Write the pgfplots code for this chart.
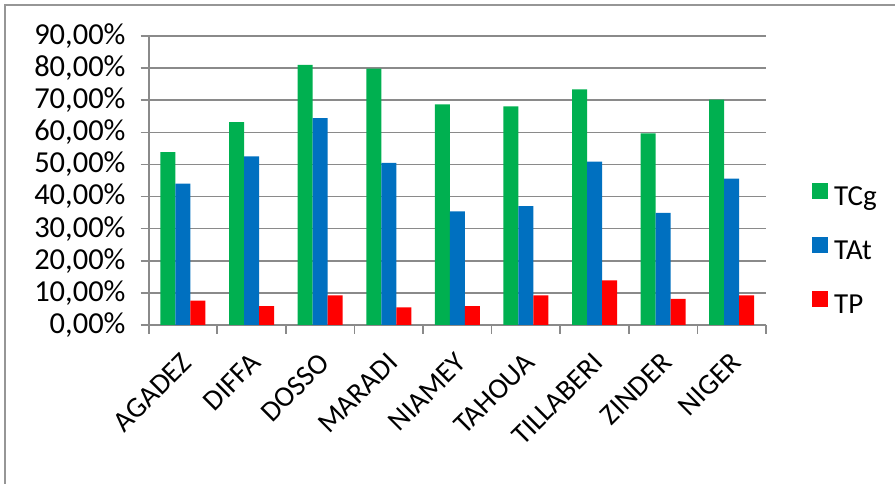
\documentclass[border=0pt]{standalone}
\usepackage{pgfplots}
\pgfplotsset{compat=1.18}
\usepackage{fontspec}
\setmainfont{Carlito}
\definecolor{cg}{HTML}{00B050}
\definecolor{ca}{HTML}{0070C0}
\definecolor{cp}{HTML}{FF0000}
\definecolor{gl}{HTML}{8A8A8A}
\newcommand{\bigf}{\fontsize{29bp}{34bp}\selectfont}
\newcommand{\ytf}{\fontsize{30.5bp}{36bp}\selectfont}
\begin{document}
\begin{tikzpicture}[x=1bp,y=1bp]
\useasboundingbox (0,0) rectangle (895,484);
\draw[gl!90, line width=1.5bp] (5,0) -- (5,479) -- (895,479);
\begin{axis}[
  at={(148.7bp,159bp)}, anchor=south west,
  scale only axis, width=617.3bp, height=289bp,
  clip=false,
  ybar=0pt, bar width=15bp,
  xmin=-0.5, xmax=8.5, ymin=0, ymax=90,
  xtick={-0.5,0.5,...,8.5}, x tick label as interval,
  xticklabels={AGADEZ,DIFFA,DOSSO,MARADI,NIAMEY,TAHOUA,TILLABERI,ZINDER,NIGER},
  ytick={0,10,...,90},
  yticklabel={\pgfmathprintnumber[fixed,fixed zerofill,precision=2,use comma,assume math mode=true]{\tick}\%},
  x tick label style={font=\bigf, xshift=4bp, yshift=-25bp, rotate=45, anchor=east, inner sep=0pt},
  y tick label style={font=\ytf, xshift=-15bp, anchor=east, inner sep=0pt},
  axis x line*=bottom, axis y line*=left,
  axis line style={-, draw=gl, line width=1.6bp},
  tick align=outside, major tick length=8bp,
  major tick style={draw=gl, line width=1.6bp},
  ymajorgrids, grid style={draw=gl, line width=1.6bp},
  legend style={at={(1.0745,0.255)}, anchor=west, draw=none, fill=none, inner sep=0pt,
    row sep=26bp, cells={anchor=west}, font=\bigf,
    nodes={inner sep=0pt, text height=20bp, text depth=6bp}},
  legend image code/.code={\fill[#1,draw=none] (0bp,-1bp) rectangle (16bp,15bp); \path (22bp,0bp);},
]
\addplot[fill=cg, draw=none] coordinates {(0,53.8) (1,63.2) (2,81.0) (3,79.8) (4,68.7) (5,68.1) (6,73.4) (7,59.7) (8,70.2)};
\addplot[fill=ca, draw=none] coordinates {(0,44.0) (1,52.5) (2,64.4) (3,50.5) (4,35.4) (5,37.0) (6,50.9) (7,34.9) (8,45.6)};
\addplot[fill=cp, draw=none] coordinates {(0,7.6) (1,5.9) (2,9.2) (3,5.5) (4,5.9) (5,9.2) (6,13.9) (7,8.1) (8,9.2)};
\legend{TCg,TAt,TP}
\pgfplotsinvokeforeach{-0.5,0.5,1.5,2.5,3.5,4.5,5.5,6.5,7.5,8.5}{
  \draw[gl, line width=1.6bp] (axis cs:#1,0) -- ++(0bp,-9bp);
}
\end{axis}
\end{tikzpicture}
\end{document}
